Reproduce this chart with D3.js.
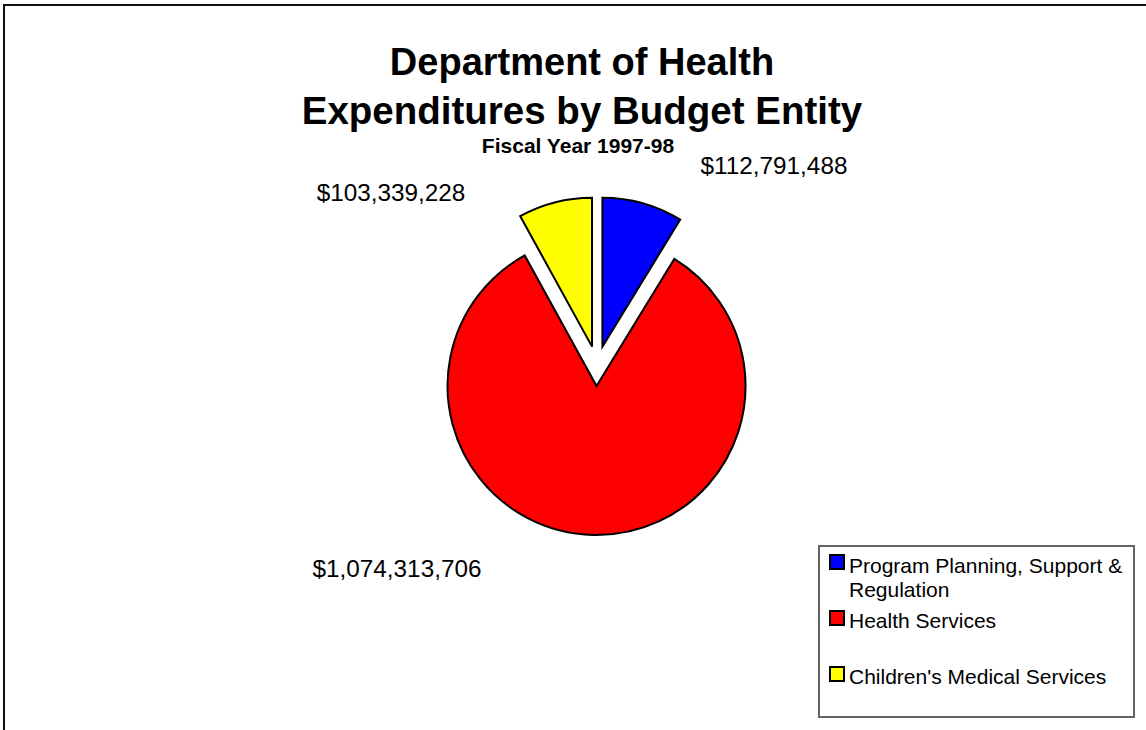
<!DOCTYPE html>
<html>
<head>
<meta charset="utf-8">
<script src="https://cdn.jsdelivr.net/npm/d3@7"></script>
<style>
  body { margin: 0; background: #fff; }
  svg { display: block; font-family: Arial, "Liberation Sans", sans-serif; }
</style>
</head>
<body>
<svg id="chart" width="1146" height="730"></svg>
<script>
// values, fiscal year 1997-98
const categories = ['Program Planning, Support & Regulation', 'Health Services', "Children's Medical Services"];
const values = [112791488, 1074313706, 103339228];
const valueLabels = ['$112,791,488', '$1,074,313,706', '$103,339,228'];
const legendLines = [['Program Planning, Support &', 'Regulation'], ['Health Services'], ["Children's Medical Services"]];
const colors = ['#0000ff', '#ff0000', '#ffff00'];

// layout
const W = 1146, H = 730;
const center = {x: 597, y: 366};
const RADIUS = 149;
const EXPLODE = 20;
// where Excel dropped each value label, relative to the pie centre
const labelOffsets = [[177, -201], [-200, 202], [-206, -174]];

const svg = d3.select('#chart');

// outer frame (only top and left edges fall inside the picture)
svg.append('rect')
    .attr('x', 4).attr('y', 5)
    .attr('width', W + 50).attr('height', H + 50)
    .attr('fill', 'none')
    .attr('stroke', '#111')
    .attr('stroke-width', 2);

// titles
const title = svg.append('g').attr('text-anchor', 'middle').attr('font-weight', 'bold');
title.append('text').attr('x', 582).attr('y', 75).attr('font-size', 38).text('Department of Health');
title.append('text').attr('x', 582).attr('y', 124).attr('font-size', 38.5).text('Expenditures by Budget Entity');
title.append('text').attr('x', 578).attr('y', 153).attr('font-size', 21).text('Fiscal Year 1997-98');

// pie
const pie = d3.pie().sort(null).value(d => d)(values);
const arc = d3.arc().innerRadius(0).outerRadius(RADIUS);

svg.append('g')
    .attr('transform', `translate(${center.x},${center.y})`)
    .selectAll('path')
    .data(pie)
    .join('path')
    .attr('transform', d => {
        const mid = (d.startAngle + d.endAngle) / 2;
        return `translate(${EXPLODE * Math.sin(mid)},${-EXPLODE * Math.cos(mid)})`;
    })
    .attr('d', arc)
    .attr('fill', (d, i) => colors[i])
    .attr('stroke', '#000')
    .attr('stroke-width', 2)
    .attr('stroke-linejoin', 'miter');

// value labels
svg.append('g')
    .attr('text-anchor', 'middle')
    .attr('font-size', 24.3)
    .selectAll('text')
    .data(pie)
    .join('text')
    .attr('x', (d, i) => center.x + labelOffsets[i][0])
    .attr('y', (d, i) => center.y + labelOffsets[i][1])
    .attr('dy', '0.35em')
    .text((d, i) => valueLabels[i]);

// legend
const legend = svg.append('g');
legend.append('rect')
    .attr('x', 819).attr('y', 546)
    .attr('width', 315).attr('height', 171)
    .attr('fill', '#fff')
    .attr('stroke', '#666')
    .attr('stroke-width', 2);

const swatchY = [555, 611, 667];
const textY = [573, 628, 684];
const rows = legend.selectAll('g.row')
    .data(categories)
    .join('g')
    .attr('class', 'row');
rows.append('rect')
    .attr('x', 830)
    .attr('y', (d, i) => swatchY[i])
    .attr('width', 14).attr('height', 14)
    .attr('fill', (d, i) => colors[i])
    .attr('stroke', '#000')
    .attr('stroke-width', 2);
rows.append('text')
    .attr('y', (d, i) => textY[i])
    .attr('font-size', 21)
    .selectAll('tspan')
    .data((d, i) => legendLines[i])
    .join('tspan')
    .attr('x', 849)
    .attr('dy', (d, j) => j === 0 ? 0 : 24)
    .text(d => d);
</script>
</body>
</html>
